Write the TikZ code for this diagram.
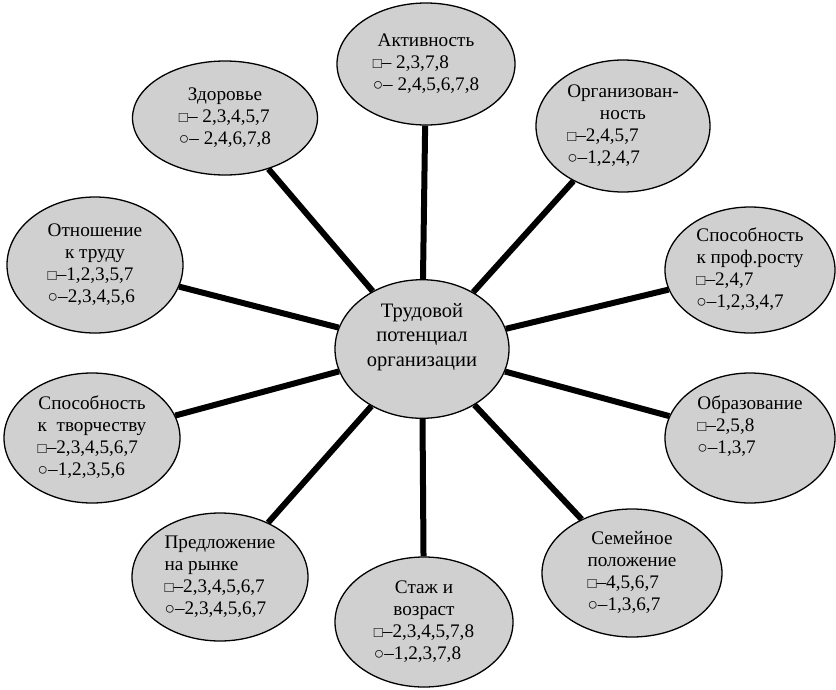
\documentclass[tikz,border=0pt]{standalone}
\usepackage{fontspec}
\usepackage{graphicx}
\setmainfont{Liberation Serif}
\usetikzlibrary{shapes.geometric,backgrounds}
\definecolor{bubgray}{RGB}{208,208,208}
\newcommand\blk[1]{\begin{tabular}{@{}l@{}}#1\end{tabular}}
\newcommand\ttl[1]{\multicolumn{1}{@{}c@{}}{#1}}
\newcommand\sqs{\scalebox{0.78}{□}}
\newcommand\crs{\scalebox{0.9}{○}}
\tikzset{
  bub/.style={ellipse, draw=black, line width=1.3pt, fill=bubgray, inner sep=0pt,
    font=\fontsize{19.2}{22}\selectfont},
  link/.style={line width=6pt, draw=black}
}
\begin{document}
\begin{tikzpicture}[x=1pt,y=-1pt]
\useasboundingbox (0,0) rectangle (836,689);
\node[bub, minimum width=174pt, minimum height=136pt, font=\fontsize{20.5}{24.5}\selectfont] (C) at (422,349)
  {\blk{\ttl{Трудовой}\\ \ttl{потенциал}\\ \ttl{организации}\\ \mbox{}}};
\node[bub, minimum width=178pt, minimum height=122pt] (A) at (426,64)
  {\blk{\ttl{Активность}\\ \sqs– 2,3,7,8\\ \crs– 2,4,5,6,7,8}};
\node[bub, minimum width=185pt, minimum height=114pt] (Z) at (225,118)
  {\blk{\ttl{Здоровье}\\ \sqs– 2,3,4,5,7\\ \crs– 2,4,6,7,8}};
\node[bub, minimum width=174pt, minimum height=132pt] (O) at (623,126)
  {\blk{\ttl{Организован-}\\ \ttl{ность}\\ \sqs–2,4,5,7\\ \crs–1,2,4,7}};
\node[bub, minimum width=176pt, minimum height=136pt] (T) at (95,265)
  {\blk{\ttl{Отношение}\\ \ttl{к труду}\\ \sqs–1,2,3,5,7\\ \crs–2,3,4,5,6}};
\node[bub, minimum width=170pt, minimum height=126pt] (P) at (750,270)
  {\blk{\ttl{Способность}\\ \ttl{к проф.росту}\\ \sqs–2,4,7\\ \crs–1,2,3,4,7}};
\node[bub, minimum width=176pt, minimum height=130pt] (Tv) at (92,438)
  {\blk{\ttl{Способность}\\ \ttl{к\ \ творчеству}\\ \sqs–2,3,4,5,6,7\\ \crs–1,2,3,5,6}};
\node[bub, minimum width=170pt, minimum height=130pt] (Ob) at (750,438)
  {\blk{\ttl{Образование}\\ \sqs–2,5,8\\ \crs–1,3,7\\ \mbox{}}};
\node[bub, minimum width=176pt, minimum height=128pt] (Pr) at (220,577)
  {\blk{Предложение\\ на рынке\\ \sqs–2,3,4,5,6,7\\ \crs–2,3,4,5,6,7}};
\node[bub, minimum width=178pt, minimum height=130pt] (S) at (424,622)
  {\blk{\ttl{Стаж и}\\ \ttl{возраст}\\ \sqs–2,3,4,5,7,8\\ \crs–1,2,3,7,8}};
\node[bub, minimum width=180pt, minimum height=128pt] (Se) at (632,573)
  {\blk{\ttl{Семейное}\\ \ttl{положение}\\ \sqs–4,5,6,7\\ \crs–1,3,6,7}};
\begin{scope}[on background layer]
  \foreach \n in {A,Z,O,T,P,Tv,Ob,Pr,S,Se}
    \draw[link] (C) -- (\n);
\end{scope}
\end{tikzpicture}
\end{document}
